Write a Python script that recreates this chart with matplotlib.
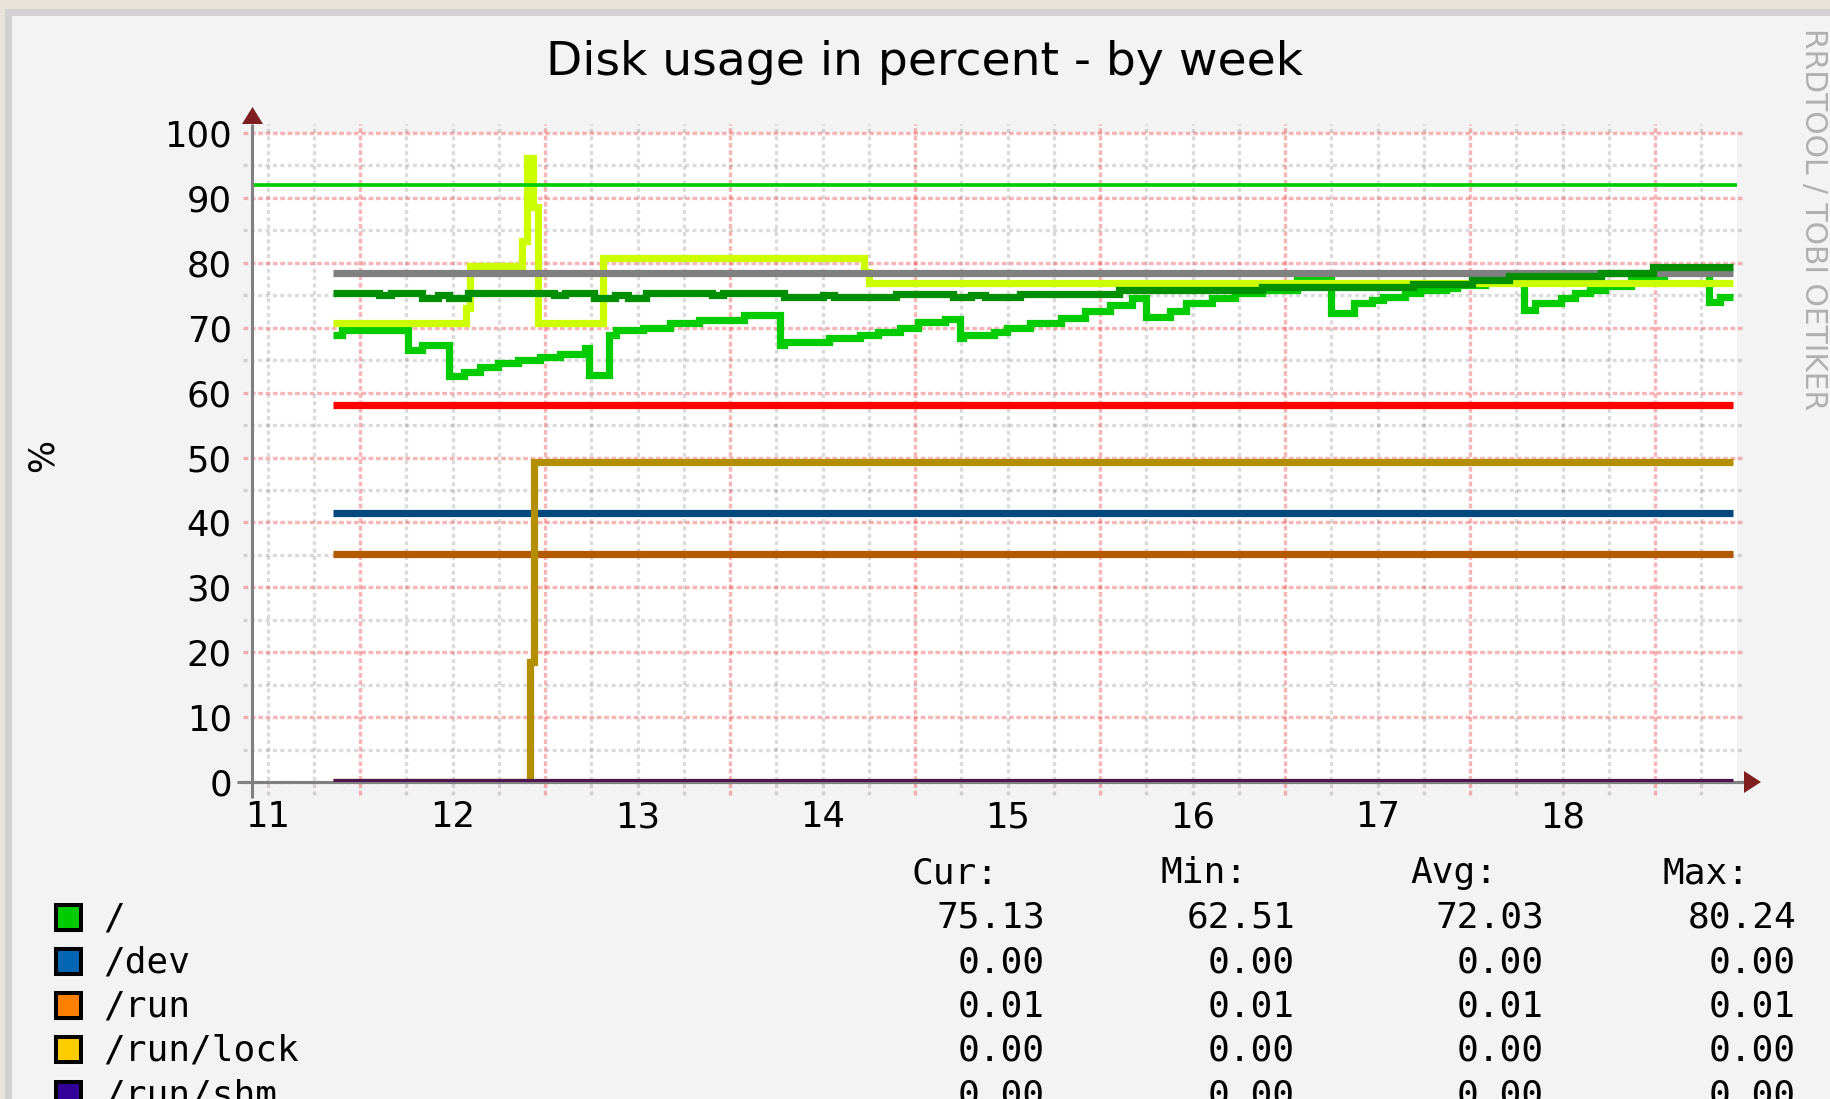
import matplotlib.pyplot as plt
from matplotlib.patches import Rectangle, Polygon

plt.rcParams['lines.scale_dashes'] = False

W, H = 1830, 1099

# time = day of month (fractional), values in percent
root_t = [11.854, 11.900, 12.262, 12.335, 12.479, 12.562, 12.649, 12.746, 12.854, 12.973,
          13.081, 13.216, 13.238, 13.346, 13.384, 13.530, 13.676, 13.832, 14.076, 14.268,
          14.292, 14.533, 14.702, 14.798, 14.919, 15.016, 15.160, 15.245, 15.257, 15.426,
          15.497, 15.619, 15.788, 15.919, 16.053, 16.173, 16.246, 16.378, 16.463, 16.608,
          16.729, 16.874, 17.065, 17.249, 17.371, 17.470, 17.530, 17.649, 17.730, 17.870,
          17.930, 18.081, 18.292, 18.351, 18.492, 18.568, 18.649, 18.730, 18.870, 19.049,
          19.292, 19.351, 19.422]
root_v = [68.9, 69.6, 66.6, 67.3, 62.5, 63.2, 64.0, 64.5, 65.0, 65.5,
          66.0, 66.8, 62.7, 68.9, 69.6, 69.9, 70.7, 71.2, 72.0, 67.3,
          67.8, 68.4, 68.9, 69.4, 69.9, 70.9, 71.3, 68.4, 68.9, 69.4,
          69.9, 70.7, 71.5, 72.5, 73.5, 74.6, 71.7, 72.5, 73.8, 74.6,
          75.3, 75.8, 77.9, 72.2, 73.8, 74.3, 74.8, 75.3, 75.8, 76.1,
          76.6, 77.0, 72.7, 73.8, 74.6, 75.3, 75.8, 76.4, 77.9, 79.0,
          74.0, 74.8, 74.8]

lime_t = [11.854, 12.573, 12.595, 12.876, 12.903, 12.935, 12.962, 13.312, 14.724, 14.751, 19.422]
lime_v = [70.7, 73.0, 79.5, 83.3, 96.1, 88.6, 70.7, 80.7, 78.6, 76.9, 76.9]

dkgreen_t = [11.854, 12.100, 12.170, 12.335, 12.420, 12.480, 12.585, 13.050, 13.110, 13.265,
             13.380, 13.450, 13.546, 13.900, 13.960, 14.292, 14.500, 14.560, 14.895, 15.205,
             15.300, 15.380, 15.567, 16.100, 16.874, 17.692, 18.011, 18.211, 18.708, 18.989,
             19.422]
dkgreen_v = [75.3, 75.0, 75.3, 74.6, 75.0, 74.6, 75.3, 75.0, 75.3, 74.6,
             75.0, 74.6, 75.3, 75.0, 75.3, 74.8, 75.1, 74.8, 75.2, 74.8,
             75.1, 74.8, 75.2, 75.8, 76.2, 76.8, 77.3, 77.9, 78.5, 79.4,
             79.4]

gold_t = [11.854, 12.921, 12.940, 19.422]
gold_v = [0.0, 18.5, 49.35, 49.35]

flat_t = [11.854, 19.422]
red_v = 58.1
gray_v = 78.5
blue_v = 41.4
brown_v = 35.1
zero_v = 0.0
warn_v = 92.0

day_labels = ['11', '12', '13', '14', '15', '16', '17', '18']
day_pos = [11.5, 12.5, 13.5, 14.5, 15.5, 16.5, 17.5, 18.5]
pct_ticks = list(range(0, 101, 10))

leg_names = ['/', '/dev', '/run', '/run/lock', '/run/shm']
leg_colors = ['#00CC00', '#0066B3', '#FF8000', '#FFCC00', '#330099']
leg_cur = ['75.13', '0.00', '0.01', '0.00', '0.00']
leg_min = ['62.51', '0.00', '0.01', '0.00', '0.00']
leg_avg = ['72.03', '0.00', '0.01', '0.00', '0.00']
leg_max = ['80.24', '0.00', '0.01', '0.00', '0.00']


def dx(px):
    return 12 + (px - 360) / 185.0


def vy(py):
    return (782 - py) / 6.49


fig = plt.figure(figsize=(W / 100, H / 100), dpi=100, facecolor='#F3F3F3')

# pixel overlay: frame, texts, legend
bg = fig.add_axes([0, 0, 1, 1])
bg.set_xlim(0, W)
bg.set_ylim(H, 0)
bg.axis('off')
bg.add_patch(Rectangle((0, 0), W, 9, color='#EAE3D9', lw=0))
bg.add_patch(Rectangle((0, 0), 5, H, color='#EAE3D9', lw=0))
bg.add_patch(Rectangle((5, 9), W, 7, color='#D1D1D1', lw=0))
bg.add_patch(Rectangle((5, 9), 7, H, color='#D1D1D1', lw=0))

x0, x1, y0, y1 = 252, 1737, 782, 133
ax = fig.add_axes([x0 / W, 1 - y0 / H, (x1 - x0) / W, (y0 - y1) / H])
ax.set_facecolor('white')
ax.set_xlim(dx(x0), dx(x1))
ax.set_ylim(0, 100)
for s in ax.spines.values():
    s.set_visible(False)

# grid
red_grid = (0.93, 0.2, 0.2, 0.36)
gray_grid = (0, 0, 0, 0.14)
minor_h = [v + 5 for v in range(0, 100, 10)]
ax.hlines(minor_h, dx(243), dx(1744), colors=[gray_grid], lw=2.4,
          linestyles=[(0, (2.9, 2.4))], clip_on=False, zorder=0.5)
ax.hlines(pct_ticks, dx(243), dx(1744), colors=[red_grid], lw=2.4,
          linestyles=[(0, (3.4, 1.9))], clip_on=False, zorder=0.6)
quarters = [11.5 + 0.25 * k for k in range(32)]
minor_v = [q for q in quarters if q % 1 != 0 and q < dx(1744)]
major_v = [d for d in range(12, 20)]
ax.vlines(minor_v, vy(795), vy(124), colors=[gray_grid], lw=2.4,
          linestyles=[(0, (2.9, 2.4))], clip_on=False, zorder=0.5)
ax.vlines(major_v, vy(795), vy(124), colors=[red_grid], lw=2.4,
          linestyles=[(0, (3.4, 1.9))], clip_on=False, zorder=0.6)

# axes lines + arrows
ax.plot([dx(252), dx(252)], [vy(798), vy(124)], color='#808080', lw=2.2,
        clip_on=False, zorder=3, solid_capstyle='butt')
ax.plot([dx(237), dx(1744)], [0, 0], color='#808080', lw=2.2,
        clip_on=False, zorder=1, solid_capstyle='butt')
arrow_c = '#7F1E1E'
ax.add_patch(Polygon([(dx(242), vy(124)), (dx(263), vy(124)), (dx(252.5), vy(107))],
                     closed=True, color=arrow_c, lw=0, clip_on=False, zorder=4))
ax.add_patch(Polygon([(dx(1744), vy(771)), (dx(1744), vy(793)), (dx(1761), vy(782))],
                     closed=True, color=arrow_c, lw=0, clip_on=False, zorder=4))

# data
kw = dict(lw=5.2, drawstyle='steps-post', solid_capstyle='butt', solid_joinstyle='miter')
ax.plot(root_t, root_v, color='#00CC00', zorder=2, **kw)
ax.plot(lime_t, lime_v, color='#CCFF00', zorder=2.1, **kw)
ax.plot(flat_t, [red_v] * 2, color='#FF0000', zorder=2.2, **kw)
ax.plot(flat_t, [gray_v] * 2, color='#808080', zorder=2.3, **kw)
ax.plot(dkgreen_t, dkgreen_v, color='#008F00', zorder=2.4, **kw)
ax.plot(flat_t, [blue_v] * 2, color='#00487D', zorder=2.5, **kw)
ax.plot(flat_t, [brown_v] * 2, color='#B35A00', zorder=2.6, **kw)
ax.plot(gold_t, gold_v, color='#B38F00', zorder=2.7, **kw)
ax.plot(flat_t, [zero_v] * 2, color='#4E1650', zorder=2.8, **kw)
ax.axhline(warn_v, color='#00CC00', lw=2.65, zorder=2.9)

# ticks
ax.set_yticks(pct_ticks)
ax.set_yticklabels([str(v) for v in pct_ticks])
ax.set_xticks(day_pos)
ax.set_xticklabels(day_labels)
ax.tick_params(axis='both', length=0, labelsize=25.5, colors='black')
ax.tick_params(axis='y', pad=14.5)
ax.tick_params(axis='x', pad=13)

# titles
bg.text(925, 75, 'Disk usage in percent - by week', ha='center', va='baseline',
        fontsize=34, color='black')
bg.text(43, 455, '%', rotation=90, ha='center', va='center', fontsize=25)
bg.text(1814, 219, 'RRDTOOL / TOBI OETIKER', rotation=270, ha='center', va='center',
        fontsize=21.4, color='#B0B0B0')

# legend
mono = dict(family='DejaVu Sans Mono', fontsize=26, color='black', va='baseline')
col_right = [1045, 1295, 1544, 1796]
for name, xr in zip(['Cur:', 'Min:', 'Avg:', 'Max:'], col_right):
    bg.text(xr - 134, 883, name, ha='left', **mono)
for i, name in enumerate(leg_names):
    yb = 928 + 44.3 * i
    bg.add_patch(Rectangle((56, yb - 23.5), 25, 25, facecolor=leg_colors[i],
                           edgecolor='black', lw=2.9))
    bg.text(103, yb, name, ha='left', **mono)
    for vals, xr in zip([leg_cur, leg_min, leg_avg, leg_max], col_right):
        bg.text(xr, yb, vals[i], ha='right', **mono)

fig.savefig('out.png', dpi=100, facecolor=fig.get_facecolor())
